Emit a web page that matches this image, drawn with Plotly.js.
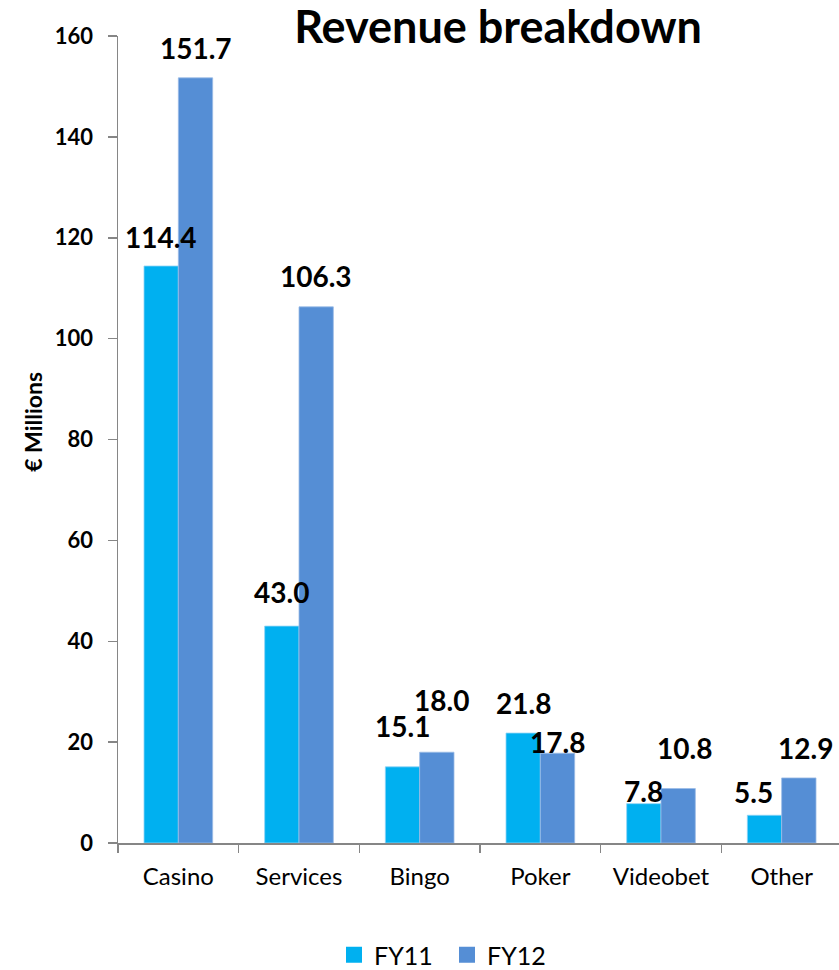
<!DOCTYPE html>
<html>
<head>
<meta charset="utf-8">
<script src="https://cdn.plot.ly/plotly-3.0.1.min.js"></script>
<style>
html, body { margin: 0; padding: 0; overflow: hidden; background: #fff; }
#chart { width: 842px; height: 970px; overflow: hidden; }
</style>
</head>
<body>
<div id="chart"></div>
<script>
// Data
const categories = ["Casino", "Services", "Bingo", "Poker", "Videobet", "Other"];
const fy11 = [114.4, 43.0, 15.1, 21.8, 7.8, 5.5];
const fy12 = [151.7, 106.3, 18.0, 17.8, 10.8, 12.9];
const seriesNames = ["FY11", "FY12"];
const yTitle = "€ Millions";
const chartTitle = "Revenue breakdown";

// Label placement offsets (pixels) relative to each bar's top
const fy11LabelDx = [0, 0, 0, 0, 0, -11];
const fy11LabelDy = [29, 34, 41, 30, 13, 23];
const fy12LabelDx = [0, 0, 5, 0, 6, 7];
const fy12LabelDy = [30, 31, 52, 11, 41, 30];

const c11 = "#00B0F0";
const c12 = "#558ED5";
const axisGray = "#868686";
const FONT = "Lato, 'Open Sans', sans-serif";
const barHalf = 17.2;
const H = 978;          // drawing height (page clips at 970)
const plotBottom = 843.3;

const traces = [
  {type: "bar", name: seriesNames[0], x: categories, y: fy11, marker: {color: c11, line: {color: "#8fd3f5", width: 0.8}}, showlegend: false, hoverinfo: "skip"},
  {type: "bar", name: seriesNames[1], x: categories, y: fy12, marker: {color: c12, line: {color: "#9bbbe6", width: 0.8}}, showlegend: false, hoverinfo: "skip"},
  {type: "scatter", mode: "markers", name: seriesNames[0], x: [null], y: [null], marker: {symbol: "square", size: 18, color: c11}},
  {type: "scatter", mode: "markers", name: seriesNames[1], x: [null], y: [null], marker: {symbol: "square", size: 18, color: c12}}
];

const annotations = [];
categories.forEach((c, i) => {
  annotations.push({x: c, y: fy11[i], xref: "x", yref: "y", text: fy11[i].toFixed(1), showarrow: false,
    xanchor: "center", yanchor: "middle", xshift: -barHalf + fy11LabelDx[i], yshift: fy11LabelDy[i],
    font: {family: FONT, size: 28, color: "#000", weight: 700}});
  annotations.push({x: c, y: fy12[i], xref: "x", yref: "y", text: fy12[i].toFixed(1), showarrow: false,
    xanchor: "center", yanchor: "middle", xshift: barHalf + fy12LabelDx[i], yshift: fy12LabelDy[i],
    font: {family: FONT, size: 28, color: "#000", weight: 700}});
});
// y-axis title, placed to the left of the axis
annotations.push({text: "<b>" + yTitle + "</b>", xref: "paper", yref: "paper",
  x: (33 - 118) / 724, y: (plotBottom - 422) / (plotBottom - 36), xanchor: "center", yanchor: "middle",
  textangle: -90, showarrow: false, font: {family: FONT, size: 23, color: "#000"}});

const layout = {
  width: 842, height: H,
  margin: {l: 118, r: 0, t: 36, b: H - plotBottom},
  paper_bgcolor: "#fff", plot_bgcolor: "#fff",
  font: {family: FONT, color: "#000"},
  title: {text: "<b>" + chartTitle + "</b>", x: 498/842, xanchor: "center", xref: "container",
    y: 1 - 27/H, yanchor: "middle", yref: "container",
    font: {family: FONT, size: 45, color: "#000"}},
  barmode: "group", bargap: 0.431, bargroupgap: 0,
  xaxis: {type: "category", showline: true, linecolor: axisGray, linewidth: 1.5,
    ticks: "outside", tickson: "boundaries", ticklen: 8, tickcolor: axisGray, tickwidth: 1.5,
    ticklabelstandoff: 12,
    tickfont: {family: FONT, size: 24, color: "#000"}, showgrid: false, zeroline: false, fixedrange: true},
  yaxis: {range: [0, 160], dtick: 20, showline: true, linecolor: axisGray, linewidth: 1.5,
    ticks: "outside", ticklen: 9, tickcolor: axisGray, tickwidth: 1.5, ticklabelstandoff: 10,
    tickfont: {family: FONT, size: 22, color: "#000", weight: 700}, showgrid: false, zeroline: false},
  legend: {orientation: "h", xref: "container", x: 447/842, xanchor: "center",
    yref: "container", y: 0, yanchor: "bottom",
    font: {family: FONT, size: 25, color: "#000"}, itemwidth: 30, entrywidth: 68},
  annotations: annotations
};

Plotly.newPlot("chart", traces, layout, {displayModeBar: false, staticPlot: true});
</script>
</body>
</html>
